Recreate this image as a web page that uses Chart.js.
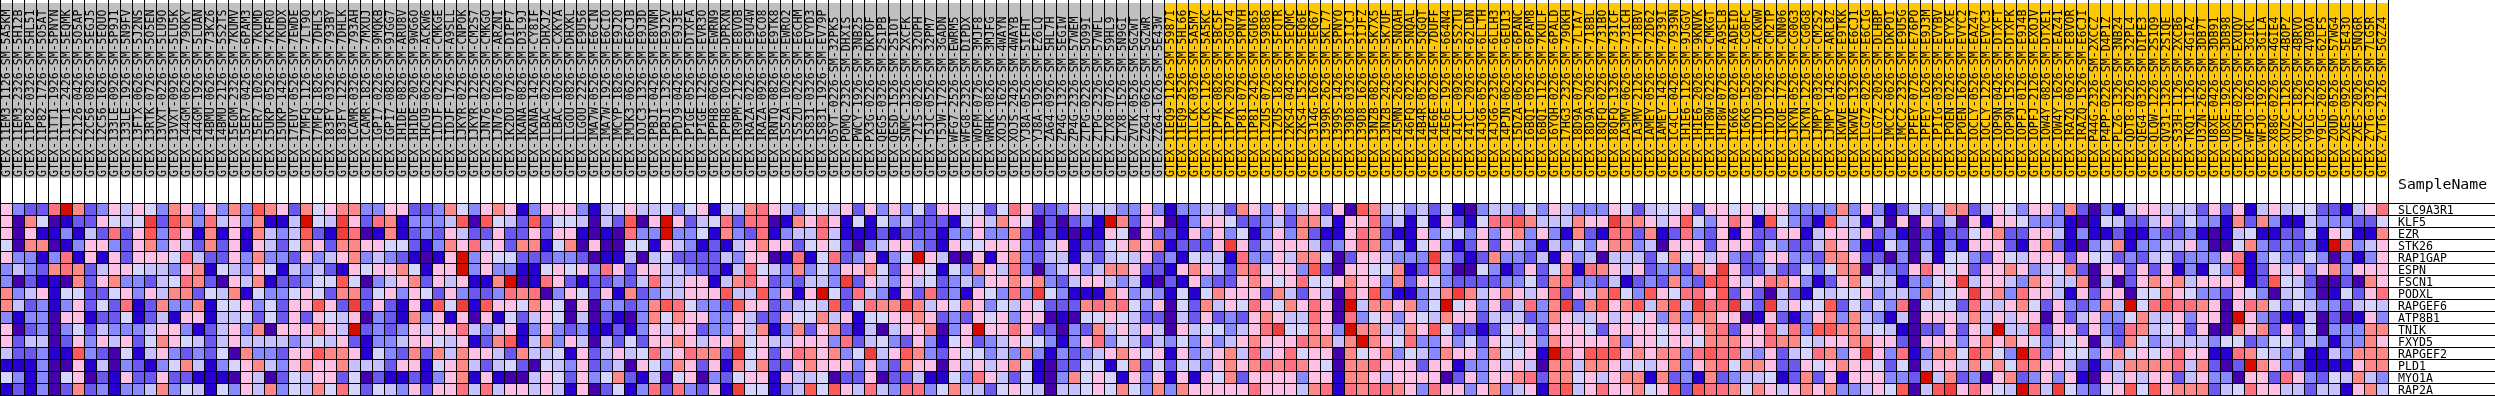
<!DOCTYPE html>
<html><head><meta charset="utf-8">
<style>html,body{margin:0;padding:0;background:#fff}canvas{display:block}</style>
<script src="https://cdn.jsdelivr.net/npm/chart.js@4"></script>
</head><body><canvas id="c" width="2495" height="396"></canvas>
<script>
const genes=["SLC9A3R1","KLF5","EZR","STK26","RAP1GAP","ESPN","FSCN1","PODXL","RAPGEF6","ATP8B1","TNIK","FXYD5","RAPGEF2","PLD1","MYO1A","RAP2A"];
const grayCount=97;
const samples=["GTEX-11EM3-1126-SM-5A5KM","GTEX-11EM3-2326-SM-5H12B","GTEX-11P82-0326-SM-5HL51","GTEX-11P82-1726-SM-5O5AT","GTEX-11TT1-1926-SM-5PNYN","GTEX-11TT1-2426-SM-5EQMK","GTEX-12126-0426-SM-5O5AP","GTEX-12C56-0826-SM-5EGJ5","GTEX-12C56-1626-SM-5EQUO","GTEX-133LE-0926-SM-5P9J1","GTEX-133LE-1926-SM-5N9FV","GTEX-13FTX-0626-SM-5J2NS","GTEX-13RTK-0726-SM-5O5EN","GTEX-13VXT-0226-SM-5LU9O","GTEX-13VXT-0926-SM-5LU5K","GTEX-144GM-0626-SM-79OKY","GTEX-144GM-1926-SM-5LUAN","GTEX-14BMU-0626-SM-73KZ6","GTEX-14BMU-2126-SM-5S2TS","GTEX-15EOM-2326-SM-7KUMV","GTEX-15ER7-0426-SM-6PAM3","GTEX-15ER7-1026-SM-7KUMD","GTEX-15UKP-0526-SM-7KFRO","GTEX-15UKP-1426-SM-7KUDX","GTEX-17EUY-0526-SM-7EWDE","GTEX-17MFQ-1126-SM-7LT9O","GTEX-17MFQ-1826-SM-7DHLS","GTEX-183FY-0326-SM-793BY","GTEX-183FY-1226-SM-7DHLK","GTEX-1CAMR-0326-SM-793AH","GTEX-1CAMR-1826-SM-7MXUJ","GTEX-1GPI7-0226-SM-9MQKB","GTEX-1GPI7-0826-SM-9JGG7","GTEX-1H1DE-0826-SM-ARU8V","GTEX-1H1DE-2026-SM-9WG6O",
"GTEX-1HCU9-0626-SM-ACKW6","GTEX-1IDJF-0226-SM-CMKGE","GTEX-1IDJF-1726-SM-A9SLL","GTEX-1JKYR-0226-SM-CNPOK","GTEX-1JKYR-1226-SM-CM2S7","GTEX-1JN76-0226-SM-CMKGO","GTEX-1JN76-1026-SM-ARZNI","GTEX-1K2DU-0726-SM-DIPF7","GTEX-1KANA-0826-SM-D3L9J","GTEX-1KANA-1426-SM-CY8IF","GTEX-1LBAC-0226-SM-DHXJZ","GTEX-1LBAC-1026-SM-CXKYA","GTEX-1LGOU-0826-SM-DHXKL","GTEX-1LGOU-2226-SM-E9U56","GTEX-1MA7W-0526-SM-E6CIN","GTEX-1MA7W-1926-SM-E6CIO","GTEX-1MCYP-1826-SM-E9J2O","GTEX-1MJK3-0626-SM-E6CJB","GTEX-1OJC3-1326-SM-E9J3D","GTEX-1PBJI-0426-SM-E8VNM","GTEX-1PBJI-1326-SM-E9J2V","GTEX-1PDJ9-0426-SM-E9J3E","GTEX-1PIGE-0526-SM-DTXFA","GTEX-1PIGE-1226-SM-EVR3O","GTEX-1PPH8-0626-SM-EWRN9","GTEX-1PPH8-1026-SM-DPRXN","GTEX-1R9PM-2126-SM-E8VOB","GTEX-1RAZA-0226-SM-E9U4W",
"GTEX-1RAZA-0926-SM-E6CO8","GTEX-1RNTQ-0826-SM-E9TK8","GTEX-1S5ZA-1026-SM-EWRO2","GTEX-1S5ZU-0226-SM-E6CHM","GTEX-1S831-0326-SM-EVYD3","GTEX-1S831-1926-SM-EV79P","GTEX-O5YT-0226-SM-32PK5","GTEX-POMQ-2326-SM-DHXIS","GTEX-PWCY-1926-SM-3NB25","GTEX-PX3G-0226-SM-DKPOF","GTEX-QEG5-0326-SM-2S1PB","GTEX-QESD-1526-SM-2S1OT","GTEX-SNMC-1326-SM-2XCFK","GTEX-T2IS-0226-SM-32OPH","GTEX-T5JC-0526-SM-32PM7","GTEX-T5JW-1726-SM-3GADN","GTEX-WFG7-2526-SM-EWRM5","GTEX-WFG8-2326-SM-DIPDX","GTEX-WOFM-0726-SM-3MJF8","GTEX-WRHK-0826-SM-3MJFG","GTEX-XOJS-1626-SM-4WAYN","GTEX-XOJS-2426-SM-4WAYB","GTEX-YJ8A-0526-SM-5IFHT","GTEX-YJ8A-1926-SM-EZ6LQ","GTEX-ZA64-0926-SM-5HL7H","GTEX-ZP4G-1326-SM-5EGIW","GTEX-ZP4G-2326-SM-57WEM","GTEX-ZTPG-0226-SM-5O99I","GTEX-ZTPG-2326-SM-57WFL",
"GTEX-ZTX8-0726-SM-59HL9","GTEX-ZTX8-1526-SM-5N9GI","GTEX-ZVTK-0526-SM-5GZWT","GTEX-ZZ64-0626-SM-5GZWR","GTEX-ZZ64-1626-SM-5E43W",
"GTEX-11EQ9-1126-SM-5987I","GTEX-11EQ9-2526-SM-5HL66","GTEX-11LCK-0326-SM-5A5M7","GTEX-11LCK-1126-SM-5A5KC","GTEX-11P7K-0826-SM-5BC5F","GTEX-11P7K-2026-SM-5GU74","GTEX-11P81-0726-SM-5PNYH","GTEX-11P81-2426-SM-5GU65","GTEX-11ZUS-0726-SM-59886","GTEX-11ZUS-1826-SM-5FQTR","GTEX-12KS4-0426-SM-5EQMC","GTEX-12KS4-1526-SM-5EQ6E","GTEX-1314G-1626-SM-5EQ67","GTEX-1399R-2626-SM-5KL77","GTEX-1399S-1426-SM-5PNYO","GTEX-139D8-0326-SM-5IJCJ","GTEX-139D8-1626-SM-5IJFZ","GTEX-13NZB-0826-SM-5K7X5","GTEX-13NZB-2426-SM-5K7UF","GTEX-145MN-2626-SM-5NQAH","GTEX-146FQ-0226-SM-5NQAL","GTEX-14B4R-0526-SM-5QGQT","GTEX-14E6E-0226-SM-7DUFF","GTEX-14E6E-1926-SM-664N4","GTEX-14ICL-0926-SM-5S2TU","GTEX-14ICL-2026-SM-62LDN","GTEX-14JG6-0526-SM-6LLTH","GTEX-14JG6-2326-SM-6LLH3",
"GTEX-14PJN-0626-SM-6EU13","GTEX-15DZA-0626-SM-6PANC","GTEX-16BQI-0526-SM-6PAM8","GTEX-16BQI-1126-SM-7KULF","GTEX-16YQH-0226-SM-6PALD","GTEX-17HG3-2326-SM-79OKH","GTEX-18D9A-0726-SM-7LTA7","GTEX-18D9A-2026-SM-718BL","GTEX-18QFQ-0226-SM-731BO","GTEX-18QFQ-1326-SM-731CF","GTEX-1A3MV-0626-SM-731CH","GTEX-1A3MV-2126-SM-718BV","GTEX-1AMEY-0526-SM-72D62","GTEX-1AMEY-1426-SM-7939I","GTEX-1C4CL-0426-SM-7939N","GTEX-1H1E6-1126-SM-9JGGV","GTEX-1H1E6-2026-SM-9KNVK","GTEX-1HT8W-0226-SM-CMKGT","GTEX-1HT8W-0726-SM-A9SLB","GTEX-1I6K6-0226-SM-ADEID","GTEX-1I6K6-1526-SM-CG0FC","GTEX-1IDJD-0926-SM-ACKWW","GTEX-1IDJD-1226-SM-CM2TP","GTEX-1IKOE-1726-SM-CNN06","GTEX-1JKYN-0526-SM-CG0G3",
"GTEX-1JKYN-1226-SM-CG0G8","GTEX-1JMPY-0326-SM-CM2S2","GTEX-1JMPY-1426-SM-ARL8Z","GTEX-1KWVE-0226-SM-E9TKK","GTEX-1KWVE-1326-SM-E6CJ1","GTEX-1LG7Z-0226-SM-E6CIG","GTEX-1LG7Z-2026-SM-DLHBP","GTEX-1MCC2-0626-SM-DKPOI","GTEX-1MCC2-2326-SM-E9U5G","GTEX-1PFEY-0726-SM-E76PO","GTEX-1PFEY-1626-SM-E9J3M","GTEX-1PIIG-0326-SM-EVYBV","GTEX-1POEN-0226-SM-EYYXE","GTEX-1POEN-1626-SM-EVYC2","GTEX-1OCLY-0526-SM-EAZ47","GTEX-1OCLY-1226-SM-EVYC3","GTEX-1OP9N-0426-SM-DTXFT","GTEX-1OP9N-1526-SM-DTXFK","GTEX-1OPFJ-0126-SM-E9J4B","GTEX-1OPFJ-2126-SM-EXOJV","GTEX-1OW4Y-0826-SM-DTXE1","GTEX-1OW4Y-1626-SM-EAZ41","GTEX-1RAZQ-0626-SM-E8VOR","GTEX-1RAZQ-1526-SM-E6CJI","GTEX-P44G-2326-SM-2XCCZ",
"GTEX-P4PP-0226-SM-D4P1Z","GTEX-PLZ6-1326-SM-3NB24","GTEX-QDT8-0226-SM-32PL4","GTEX-QEG4-0326-SM-DIPE3","GTEX-QLQW-1226-SM-2S1Q9","GTEX-QV31-1326-SM-2S1QE","GTEX-S33H-1126-SM-2XCB6","GTEX-TKQ1-1126-SM-4GIAZ","GTEX-U3ZN-2626-SM-3DB7T","GTEX-U8XE-0426-SM-3DB91","GTEX-U8XE-1926-SM-3DB98","GTEX-VUSH-0226-SM-EXUQV","GTEX-WFJO-1026-SM-3GIKL","GTEX-WFJO-1926-SM-3GILA","GTEX-X88G-0226-SM-4GIE4","GTEX-XUZC-1126-SM-4BOPZ","GTEX-XUZC-1826-SM-4BRVO","GTEX-Y9LG-1226-SM-4VBOA","GTEX-Y9LG-2026-SM-62LFS","GTEX-ZOUD-0526-SM-57WG4","GTEX-ZXES-0926-SM-5E43O","GTEX-ZXES-2026-SM-5NQ6R","GTEX-ZYT6-0326-SM-7LG5R","GTEX-ZYT6-2126-SM-5GZZ4"];
const palette=["#4500AD","#2700D1","#6B58EF","#8888FF","#C7C1FF","#D5D5FF","#FFC0E5","#FF8989","#FF7080","#FF5A5A","#EF4040","#D60C00"];
const rowSLC9A3R1=[6,3,2,2,8,11,7,2,3,6,4,6,5,3,7,6,3,6,3,7,3,9,7,6,2,7,5,6,7,7,3,3,6,6,2,
2,3,7,5,3,6,7,6,1,3,6,6,6,3,1,4,5,6,4,4,5,3,5,6,1,5,4,7,
8,6,4,3,5,5,4,6,2,6,3,6,3,5,2,6,6,5,5,2,5,8,6,2,2,3,6,4,4,
4,3,3,6,3,1,3,3,4,4,2,7,6,3,6,3,4,6,2,6,0,9,7,4,5,3,4,2,5,1,0,3,4,
4,3,5,3,6,4,3,3,3,6,5,2,4,5,5,6,2,6,6,5,6,5,6,6,3,
3,3,3,7,3,6,3,1,2,5,3,4,7,7,2,4,6,5,3,6,6,3,7,2,0,
3,1,4,6,6,4,4,4,2,6,2,6,1,4,6,4,5,5,2,2,1,4,6,8];
const rowKLF5=[6,0,7,5,0,1,2,2,6,5,4,5,10,2,9,7,3,8,4,6,3,7,1,1,4,11,5,4,10,6,2,8,7,1,3,
3,3,4,9,0,9,5,4,2,9,2,5,5,4,0,4,2,9,0,6,11,6,2,4,5,8,2,8,
8,0,1,7,6,8,6,1,5,1,5,3,4,2,2,2,1,5,6,4,7,6,5,0,2,0,2,3,1,
11,7,2,6,6,0,1,3,6,6,5,2,2,3,4,2,7,7,4,1,6,6,8,3,4,1,5,1,6,2,1,5,8,
8,9,7,4,4,4,7,6,6,10,7,7,6,4,6,9,5,3,6,8,6,1,9,5,3,
2,1,9,4,4,1,4,0,6,0,6,2,4,0,6,1,6,6,5,3,3,3,1,0,1,
5,4,2,2,4,6,3,5,3,3,1,7,2,7,3,1,1,4,3,3,3,2,2,5];
const rowEZR=[6,0,6,1,1,3,1,4,2,8,2,6,9,3,8,6,1,7,1,6,1,7,4,3,4,9,2,1,10,8,0,1,7,1,2,
3,2,6,4,2,2,6,2,2,6,2,6,6,1,0,1,0,8,3,3,11,3,3,5,1,7,3,2,
8,1,3,4,4,8,4,1,1,1,2,1,2,2,2,1,3,3,6,3,3,7,2,1,2,1,0,1,1,
6,5,0,6,2,2,1,6,3,6,3,5,1,3,6,3,7,2,1,1,6,8,7,2,1,1,6,3,5,5,3,6,3,
6,7,3,6,3,1,7,2,1,8,8,2,7,1,2,8,3,2,6,1,6,2,2,6,6,
1,4,6,6,4,6,2,3,1,0,2,1,2,2,5,6,7,2,2,6,6,4,1,3,1,
1,2,1,1,3,2,2,3,1,0,1,4,5,1,1,2,2,5,1,6,5,1,1,7];
const rowSTK26=[5,0,7,7,0,1,3,6,6,3,2,6,7,3,6,4,2,7,2,6,1,6,4,2,5,7,6,2,7,7,6,6,5,5,2,
1,3,7,6,8,4,6,2,7,7,1,5,7,0,6,0,0,5,5,1,6,4,3,1,2,1,4,6,
7,6,6,2,5,6,5,2,0,3,4,6,6,3,2,1,6,5,5,6,6,6,3,2,4,6,1,2,2,
5,6,7,6,7,1,2,2,2,6,10,6,2,4,6,6,6,4,2,3,6,8,7,3,4,1,5,6,3,1,2,6,2,
6,4,3,1,4,3,5,3,6,7,7,3,4,0,6,6,6,2,6,6,6,2,4,3,2,
2,4,7,6,3,1,1,5,3,0,3,1,3,1,6,6,6,2,1,6,7,2,1,0,3,
4,7,1,3,3,4,4,6,3,0,0,5,7,3,2,3,2,3,1,11,7,3,4,6];
const rowRAP1GAP=[6,3,3,1,3,8,1,6,1,6,2,6,6,6,5,8,4,2,2,6,3,7,3,3,2,6,3,4,6,7,3,4,3,2,1,
0,1,6,11,3,6,5,5,2,2,2,3,3,2,0,1,1,4,0,4,5,2,2,2,2,4,3,6,
6,0,1,8,1,5,8,2,3,6,1,3,5,11,6,4,0,0,6,1,6,7,3,2,4,4,1,4,2,
4,5,4,6,2,3,1,5,4,4,1,8,3,3,6,4,7,7,5,0,2,6,6,4,3,3,3,10,4,2,1,2,7,
3,3,2,4,1,6,3,4,0,4,4,4,2,5,7,5,6,4,6,3,2,3,6,6,3,
3,2,7,7,6,2,2,0,3,0,4,1,5,5,3,2,6,5,4,6,6,6,2,6,5,
5,2,3,2,4,5,2,3,3,3,6,8,1,3,5,3,3,5,3,0,3,1,3,6];
const rowESPN=[3,4,3,2,7,8,7,2,4,6,6,5,4,4,3,6,7,1,5,4,3,6,5,1,4,3,4,2,1,6,5,6,6,7,5,
1,6,6,11,3,6,3,3,1,1,5,6,5,6,3,8,6,2,6,6,4,4,3,2,2,1,4,8,
5,4,3,7,3,5,3,6,6,7,5,2,6,6,5,1,5,3,7,6,4,8,3,0,3,4,6,3,4,
7,7,6,2,2,1,6,7,6,4,2,7,8,5,6,6,3,9,2,0,6,6,5,5,7,1,2,8,3,0,0,5,3,
1,2,6,2,5,7,1,8,7,6,4,6,2,3,3,2,7,6,10,6,2,2,4,2,2,
5,3,5,7,7,0,4,3,2,6,8,6,5,6,2,6,6,7,6,3,4,5,7,2,0,
6,6,2,6,2,6,1,3,1,5,3,9,1,2,6,4,6,3,6,7,3,6,6,6];
const rowFSCN1=[3,0,2,1,1,0,7,2,6,7,3,3,2,4,5,8,7,2,0,6,4,7,1,2,2,3,5,5,9,5,0,3,4,6,7,
2,6,4,6,1,1,7,11,0,1,8,6,2,1,2,2,3,2,4,8,4,4,6,6,1,4,7,8,
6,2,3,2,4,4,3,10,2,6,4,3,6,4,5,2,3,4,3,6,6,7,6,7,3,2,4,6,6,
4,3,4,1,0,2,1,6,3,2,2,6,7,6,5,6,8,5,5,6,7,6,6,3,7,2,6,5,3,2,2,2,2,
3,3,5,2,7,8,3,3,2,4,1,2,3,2,7,3,2,9,9,6,4,6,8,7,6,
3,1,2,6,7,5,4,4,1,3,3,5,6,10,4,6,6,4,3,7,6,4,4,7,0,
4,0,2,6,7,6,7,4,6,6,6,6,1,2,9,5,4,2,0,0,2,0,7,6];
const rowPODXL=[7,3,4,6,1,5,5,2,2,5,6,3,6,4,7,7,2,5,4,7,1,5,3,3,5,6,5,2,7,7,2,5,6,3,6,
5,2,6,3,2,2,3,8,7,8,0,3,6,5,2,6,1,7,2,3,4,4,6,6,6,9,4,4,
9,3,6,1,6,11,5,2,8,4,3,1,6,2,8,2,3,1,6,5,3,8,3,10,5,3,1,1,1,
7,6,3,4,3,1,5,1,5,7,6,6,6,2,7,4,2,6,4,0,8,6,9,3,1,1,3,4,7,10,7,4,6,
7,6,4,6,8,2,6,4,7,9,5,3,9,6,5,8,8,6,9,2,6,2,0,4,2,
1,5,4,5,5,6,3,4,4,3,7,4,5,6,10,6,7,3,8,6,6,4,1,6,2,
6,6,0,5,5,7,6,5,3,3,2,6,5,3,0,4,5,3,0,1,5,2,6,8];
const rowRAPGEF6=[7,4,2,3,1,3,6,2,5,2,8,1,2,7,3,3,7,1,5,5,6,3,5,2,6,6,9,6,2,10,2,6,2,1,6,
1,9,5,10,1,9,6,6,5,7,6,5,0,6,0,3,3,2,3,7,9,8,5,3,3,2,9,6,
6,2,3,4,5,4,9,2,5,8,7,7,10,7,4,6,5,7,6,3,5,4,6,5,2,2,2,7,8,
7,8,5,3,6,0,5,2,7,4,6,5,8,6,5,7,6,8,6,0,11,4,7,7,6,7,3,5,11,5,6,3,6,
2,4,8,3,7,10,2,7,9,6,7,9,4,7,9,4,10,8,8,10,4,2,10,4,6,
5,5,9,2,5,3,5,3,8,0,5,5,5,2,8,4,4,6,7,5,2,6,3,2,3,
7,4,11,5,8,9,8,8,7,6,0,6,8,7,5,3,5,4,3,3,2,4,5,4];
const rowATP8B1=[3,1,3,3,0,6,6,1,2,2,5,1,2,4,1,6,6,1,4,4,5,2,5,2,6,2,6,5,4,6,0,3,2,1,7,
3,6,1,6,0,6,1,5,2,4,6,5,0,4,0,2,1,0,3,7,5,7,6,6,3,3,6,4,
2,2,6,5,5,7,4,6,1,5,5,6,6,7,6,2,3,2,6,5,6,3,6,6,0,1,0,5,5,
6,5,4,2,2,0,4,2,6,2,3,2,6,7,6,4,4,8,6,0,8,3,5,6,3,6,5,4,7,6,6,2,4,
4,4,2,3,7,6,4,4,6,4,6,5,6,3,7,3,7,7,6,6,0,1,6,2,1,
3,6,7,3,7,4,3,1,4,0,6,6,6,4,7,4,6,4,6,6,0,6,2,4,6,
3,3,5,7,4,4,6,3,6,6,0,11,6,3,2,1,1,4,0,2,0,1,6,3];
const rowTNIK=[6,0,2,3,0,3,5,2,4,3,3,3,4,6,6,3,1,2,4,6,3,7,0,6,6,6,7,6,4,11,2,3,2,3,6,
4,6,6,8,4,3,4,6,1,3,6,3,2,3,1,1,2,1,3,6,4,6,6,2,3,3,6,4,
7,1,3,7,2,6,7,2,1,4,0,4,6,6,7,0,3,6,11,6,6,8,6,2,2,0,3,2,7,
4,6,4,6,4,0,6,4,5,5,3,4,6,8,10,5,5,7,6,3,11,7,7,4,4,7,6,9,5,2,2,1,2,
5,6,5,2,6,6,6,5,2,6,6,6,6,5,6,4,6,7,8,2,6,6,8,4,8,
3,9,9,7,7,4,5,4,1,0,2,2,6,2,6,4,11,4,4,8,2,6,6,2,6,
3,2,8,7,4,5,6,2,6,0,0,7,6,7,2,6,2,5,0,3,3,3,7,7];
const rowFXYD5=[6,2,4,4,0,2,6,3,6,4,6,2,5,7,6,5,4,2,4,6,4,4,4,4,3,4,5,4,6,2,1,3,3,4,6,
6,5,4,6,1,2,7,9,1,4,7,3,6,4,0,4,2,5,2,6,6,7,6,4,6,6,7,5,
6,4,4,6,6,6,3,8,2,4,5,3,2,6,3,1,5,6,2,3,4,6,5,5,3,1,3,6,8,
3,5,4,2,4,3,5,3,6,3,4,6,7,6,6,6,8,7,7,4,7,11,7,6,5,8,3,3,6,3,5,2,6,
5,4,6,3,7,6,6,6,6,7,3,6,6,5,6,6,5,7,7,7,6,6,8,7,7,
5,4,6,6,7,7,6,6,2,0,6,6,6,3,6,7,6,7,6,5,3,4,5,6,0,
4,2,7,5,3,4,4,4,4,3,5,5,2,3,5,5,3,4,3,1,3,3,7,6];
const rowRAPGEF2=[4,2,2,3,1,1,9,3,2,0,5,1,4,6,3,2,3,2,5,0,7,3,3,2,6,6,9,7,7,6,1,5,3,2,7,
2,7,4,7,6,6,4,2,7,4,4,5,1,6,2,4,6,4,5,8,4,6,8,7,7,2,10,5,
6,2,6,8,7,6,7,3,5,10,4,6,9,7,3,2,6,5,5,3,4,3,7,3,1,3,2,3,4,
6,7,6,5,6,1,6,3,4,6,7,4,8,4,6,8,5,6,6,0,7,5,6,7,3,5,4,3,7,6,6,3,7,
5,5,6,1,11,8,6,9,9,9,6,7,6,7,7,3,8,9,8,8,4,3,6,2,4,
5,8,7,3,6,10,6,3,8,1,3,7,7,5,9,7,5,3,11,8,3,6,5,5,3,
6,7,5,6,5,6,8,6,6,1,1,8,7,5,4,3,4,1,1,4,3,7,7,7];
const rowPLD1=[1,1,1,3,0,0,6,1,4,0,3,2,1,3,5,7,4,1,3,5,6,7,4,3,6,7,6,6,7,4,4,4,2,6,6,
1,5,6,7,4,2,4,5,2,0,5,4,3,6,2,3,4,0,6,5,3,7,6,2,6,1,7,5,
7,2,2,6,7,6,6,6,3,6,3,2,7,6,6,0,6,4,6,4,6,7,5,1,0,2,2,5,5,
1,5,7,2,5,2,5,4,3,6,7,6,7,8,7,8,7,6,5,0,7,7,8,6,6,6,2,6,6,1,3,3,6,
4,6,4,0,7,7,4,7,7,6,4,5,4,6,7,3,6,7,8,5,7,7,6,2,2,
6,5,6,7,6,6,5,2,5,0,4,6,6,4,7,5,7,5,8,7,6,6,4,2,1,
3,4,7,7,7,7,8,4,7,2,0,2,11,7,6,3,2,1,1,1,1,6,7,7];
const rowMYO1A=[5,3,1,3,0,5,6,0,2,1,6,2,2,6,2,2,1,1,1,0,6,4,0,2,5,4,6,6,2,5,0,2,1,1,2,
1,3,6,7,1,6,1,0,0,4,6,5,2,6,3,5,7,2,1,4,0,5,6,0,3,2,5,6,
6,1,6,4,4,5,0,2,2,6,0,2,2,4,1,1,5,3,8,6,4,2,5,1,0,3,7,5,6,
5,1,6,3,6,1,6,1,6,5,7,2,6,6,6,6,3,6,6,1,7,7,6,4,6,6,6,6,0,2,6,3,6,
6,7,8,2,7,7,5,6,4,6,7,7,1,7,2,3,1,7,2,3,4,4,5,1,2,
7,2,6,1,6,6,6,3,3,2,11,4,7,2,3,0,6,7,2,3,6,3,6,1,0,
6,4,6,4,6,6,2,4,6,3,3,0,6,6,2,8,6,3,2,5,4,7,4,3];
const rowRAP2A=[1,2,1,3,0,2,7,2,3,1,3,3,4,7,3,5,4,1,5,3,6,4,7,3,5,4,7,5,8,5,2,5,4,3,6,
2,6,6,8,4,8,4,6,6,4,6,4,1,6,0,2,5,1,3,8,2,8,3,2,6,1,10,5,
5,1,3,4,9,5,9,6,4,8,4,3,8,8,3,5,7,4,4,2,5,6,5,4,0,4,4,5,6,
5,7,5,3,7,3,7,6,6,6,6,6,8,6,6,6,4,7,8,1,8,7,8,8,7,6,3,8,6,6,3,6,7,
3,4,6,1,8,9,4,6,8,6,6,7,5,6,9,2,9,8,8,7,5,7,6,4,6,
7,6,7,3,3,4,6,5,9,0,4,9,10,6,8,6,5,4,11,8,4,10,5,3,2,
5,6,9,5,9,6,7,7,7,2,4,5,8,6,6,4,4,2,4,4,1,6,7,4];
const rows=[rowSLC9A3R1,rowKLF5,rowEZR,rowSTK26,rowRAP1GAP,rowESPN,rowFSCN1,rowPODXL,rowRAPGEF6,rowATP8B1,rowTNIK,rowFXYD5,rowRAPGEF2,rowPLD1,rowMYO1A,rowRAP2A];
const CLASS_GRAY="#C0C0C0",CLASS_ORANGE="#FFC800";
const CELL=12,TOP=203,N=genes.length;
const px=p=>(p-TOP)/CELL; // pixel row to scale value
const noPad=s=>{s.paddingLeft=0;s.paddingRight=0;s.paddingTop=0;s.paddingBottom=0};
const datasets=rows.map((vals,i)=>({label:genes[i],data:vals.map(()=>[i,i+1]),backgroundColor:vals.map(v=>palette[v]),barPercentage:1,categoryPercentage:1,borderWidth:0,inflateAmount:0,xAxisID:'x',yAxisID:'y'}));
datasets.push({label:'class',data:samples.map(()=>[px(3),px(178)]),backgroundColor:samples.map((_,i)=>i<grayCount?CLASS_GRAY:CLASS_ORANGE),barPercentage:1,categoryPercentage:1,borderWidth:0,inflateAmount:0,xAxisID:'x',yAxisID:'y'});
const FONT="'DejaVu Sans Mono'";
new Chart(document.getElementById('c'),{type:'bar',data:{labels:samples,datasets},options:{
 responsive:false,animation:false,events:[],
 layout:{padding:0},
 plugins:{legend:{display:false},tooltip:{enabled:false},title:{display:false}},
 scales:{
  x:{position:'top',offset:true,stacked:true,afterFit(s){s.height=0;noPad(s)},
     grid:{display:true,color:'#000',lineWidth:1,z:1,drawTicks:false,offset:true},border:{display:false},
     ticks:{autoSkip:false,z:2,mirror:true,minRotation:90,maxRotation:90,padding:177,color:'#000',showLabelBackdrop:true,backdropColor:'rgba(0,0,0,0)',backdropPadding:0,font:{family:FONT,size:11.6,lineHeight:'2px'}}},
  y:{type:'linear',position:'right',weight:0,reverse:true,min:px(0),max:px(396),
     afterFit(s){s.width=0;noPad(s)},
     afterBuildTicks(s){s.ticks=Array.from({length:N+1},(_,i)=>({value:i}))},
     grid:{display:true,color:'#000',lineWidth:1,z:1,drawTicks:true,tickLength:107,tickColor:'#000'},border:{display:false},
     ticks:{display:false}},
  y2:{type:'linear',position:'right',weight:1,reverse:true,min:px(0),max:px(396),
     afterFit(s){s.width=107;noPad(s)},
     afterBuildTicks(s){s.ticks=[{value:px(185)}].concat(genes.map((_,i)=>({value:i+0.6875})))},
     grid:{display:false,drawTicks:false},border:{display:false},
     ticks:{autoSkip:false,padding:10,color:'#000',align:'center',crossAlign:'near',
       font(c){return {family:FONT,size:c.index===0?14.8:11.6}},
       callback(v,i){return i===0?'SampleName':genes[i-1]}}}
 }}});
</script></body></html>
